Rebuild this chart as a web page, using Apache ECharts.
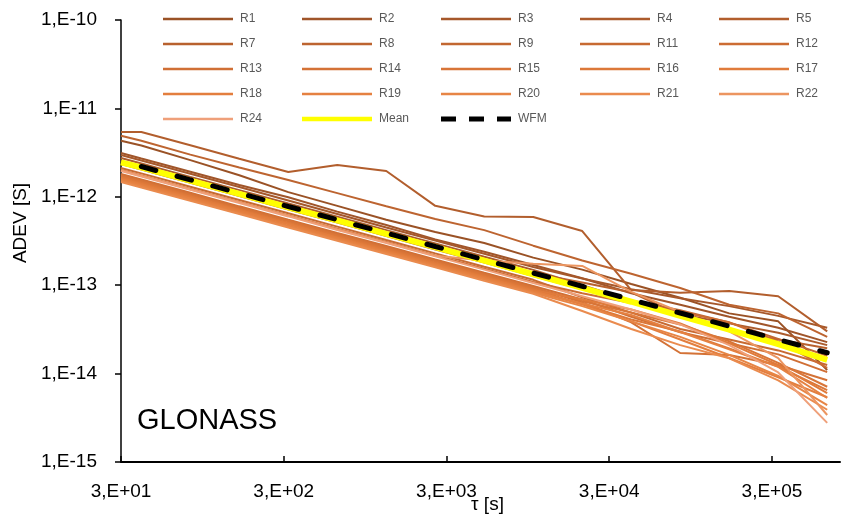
<!DOCTYPE html>
<html>
<head>
<meta charset="utf-8">
<script src="https://cdn.jsdelivr.net/npm/echarts@6/dist/echarts.min.js"></script>
<style>
html,body{margin:0;padding:0;background:#fff;}
#chart{width:847px;height:518px;}
</style>
</head>
<body>
<div id="chart"></div>
<script>
// averaging times tau [s]
const tau = [30, 40, 80, 160, 320, 640, 1280, 2560, 5120, 10240, 20480, 40960, 81920, 163840, 327680, 655360];

// ADEV values [s] per receiver
const R1  = [4.3e-12, 3.8e-12, 2.6e-12, 1.75e-12, 1.13e-12, 7.9e-13, 5.5e-13, 4.0e-13, 3.0e-13, 2.05e-13, 1.5e-13, 1.03e-13, 7.2e-14, 4.8e-14, 3.9e-14, 1.1e-14];
const R2  = [3.13e-12, 2.71e-12, 1.92e-12, 1.36e-12, 9.9e-13, 6.8e-13, 4.8e-13, 3.3e-13, 2.39e-13, 1.69e-13, 1.2e-13, 8.1e-14, 6.0e-14, 4.4e-14, 3.3e-14, 2.27e-14];
const R3  = [2.97e-12, 2.57e-12, 1.82e-12, 1.29e-12, 9.1e-13, 6.4e-13, 4.5e-13, 3.2e-13, 2.27e-13, 1.61e-13, 1.19e-13, 9.0e-14, 7.1e-14, 5.8e-14, 4.5e-14, 3.3e-14];
const R4  = [2.75e-12, 2.38e-12, 1.68e-12, 1.19e-12, 8.4e-13, 5.95e-13, 4.2e-13, 2.97e-13, 2.1e-13, 1.49e-13, 1.0e-13, 6.7e-14, 4.7e-14, 3.7e-14, 2.9e-14, 2.1e-14];
const R5  = [5.4e-12, 5.4e-12, 3.83e-12, 2.7e-12, 1.91e-12, 2.29e-12, 1.96e-12, 7.9e-13, 6.0e-13, 5.9e-13, 4.1e-13, 8.8e-14, 8.2e-14, 8.6e-14, 7.5e-14, 3.0e-14];
const R7  = [2.54e-12, 2.2e-12, 1.55e-12, 1.1e-12, 7.8e-13, 5.5e-13, 3.9e-13, 2.74e-13, 1.94e-13, 1.37e-13, 1.07e-13, 8.3e-14, 4.6e-14, 3.1e-14, 2.43e-14, 1.94e-14];
const R8  = [4.9e-12, 4.3e-12, 3.0e-12, 2.15e-12, 1.55e-12, 1.1e-12, 7.8e-13, 5.6e-13, 4.2e-13, 2.8e-13, 1.9e-13, 1.35e-13, 9.3e-14, 6.0e-14, 4.8e-14, 2.6e-14];
const R9  = [2.35e-12, 2.04e-12, 1.44e-12, 1.02e-12, 7.2e-13, 5.1e-13, 3.6e-13, 2.54e-13, 1.8e-13, 1.27e-13, 9.0e-14, 6.7e-14, 5.2e-14, 3.8e-14, 2.47e-14, 1.59e-14];
const R11 = [2.12e-12, 1.84e-12, 1.3e-12, 9.2e-13, 6.5e-13, 4.6e-13, 3.24e-13, 2.29e-13, 1.62e-13, 1.15e-13, 7.3e-14, 4.9e-14, 3.2e-14, 2.43e-14, 1.83e-14, 1.25e-14];
const R12 = [2.01e-12, 1.74e-12, 1.23e-12, 8.7e-13, 6.15e-13, 4.35e-13, 3.08e-13, 2.17e-13, 1.54e-13, 1.09e-13, 8.1e-14, 6.3e-14, 5.0e-14, 3.8e-14, 2.31e-14, 1.16e-14];
const R13 = [1.81e-12, 1.57e-12, 1.11e-12, 7.8e-13, 5.5e-13, 3.9e-13, 2.77e-13, 1.95e-13, 1.38e-13, 9.8e-14, 6.9e-14, 4.4e-14, 2.94e-14, 2.2e-14, 1.65e-14, 1.04e-14];
const R14 = [1.76e-12, 1.52e-12, 1.08e-12, 7.6e-13, 5.4e-13, 3.8e-13, 2.69e-13, 1.9e-13, 1.35e-13, 9.5e-14, 6.4e-14, 3.8e-14, 1.71e-14, 1.62e-14, 1.25e-14, 8.4e-15];
const R15 = [1.72e-12, 1.49e-12, 1.05e-12, 7.4e-13, 5.3e-13, 3.7e-13, 2.63e-13, 1.86e-13, 1.32e-13, 9.3e-14, 6.6e-14, 4.9e-14, 3.6e-14, 2.32e-14, 1.32e-14, 7.1e-15];
const R16 = [1.67e-12, 1.45e-12, 1.02e-12, 7.2e-13, 5.1e-13, 3.6e-13, 2.56e-13, 1.8e-13, 1.28e-13, 9.0e-14, 6.1e-14, 4.1e-14, 3.0e-14, 1.92e-14, 1.2e-14, 6.5e-15];
const R17 = [1.63e-12, 1.41e-12, 1.0e-12, 7.1e-13, 5.0e-13, 3.5e-13, 2.49e-13, 1.76e-13, 1.25e-13, 8.8e-14, 6.9e-14, 5.3e-14, 3.7e-14, 2.2e-14, 1.25e-14, 6.0e-15];
const R18 = [1.59e-12, 1.38e-12, 9.7e-13, 6.9e-13, 4.9e-13, 3.44e-13, 2.43e-13, 1.72e-13, 1.22e-13, 8.6e-14, 6.1e-14, 3.9e-14, 2.43e-14, 1.5e-14, 9.1e-15, 5.4e-15];
const R19 = [1.55e-12, 1.34e-12, 9.5e-13, 6.7e-13, 4.7e-13, 3.36e-13, 2.37e-13, 1.67e-13, 1.19e-13, 8.4e-14, 6.2e-14, 4.6e-14, 2.96e-14, 1.88e-14, 1.19e-14, 5.3e-15];
const R20 = [1.51e-12, 1.31e-12, 9.2e-13, 6.5e-13, 4.6e-13, 3.27e-13, 2.31e-13, 1.63e-13, 1.16e-13, 8.2e-14, 5.8e-14, 3.9e-14, 2.6e-14, 1.63e-14, 9.4e-15, 4.4e-15];
const R21 = [1.47e-12, 1.27e-12, 9.0e-13, 6.4e-13, 4.5e-13, 3.18e-13, 2.25e-13, 1.59e-13, 1.12e-13, 8.0e-14, 5.1e-14, 3.2e-14, 2.1e-14, 1.49e-14, 8.4e-15, 3.9e-15];
const R22 = [2.0e-12, 1.73e-12, 1.22e-12, 8.7e-13, 6.1e-13, 4.3e-13, 3.05e-13, 2.15e-13, 1.9e-13, 1.75e-13, 1.65e-13, 8.4e-14, 5.0e-14, 3.0e-14, 1.5e-14, 3.4e-15];
const R24 = [1.96e-12, 1.7e-12, 1.2e-12, 8.5e-13, 6.0e-13, 4.2e-13, 3.0e-13, 2.12e-13, 1.5e-13, 1.06e-13, 7.5e-14, 5.3e-14, 3.6e-14, 2.1e-14, 1.03e-14, 2.77e-15];
const Mean = [2.45e-12, 2.15e-12, 1.52e-12, 1.08e-12, 7.6e-13, 5.4e-13, 3.8e-13, 2.7e-13, 1.9e-13, 1.33e-13, 9.3e-14, 6.5e-14, 4.5e-14, 3.15e-14, 2.15e-14, 1.43e-14];
const WFM  = [null, 2.2e-12, 1.555e-12, 1.1e-12, 7.77e-13, 5.5e-13, 3.89e-13, 2.74e-13, 1.94e-13, 1.374e-13, 9.73e-14, 6.88e-14, 4.85e-14, 3.44e-14, 2.43e-14, 1.72e-14];

const receiverNames = ['R1','R2','R3','R4','R5','R7','R8','R9','R11','R12','R13','R14','R15','R16','R17','R18','R19','R20','R21','R22','R24'];
const receiverData  = [R1,R2,R3,R4,R5,R7,R8,R9,R11,R12,R13,R14,R15,R16,R17,R18,R19,R20,R21,R22,R24];
const receiverColors = ['#9A5226','#A0552A','#A6582B','#AC5B2C','#B25E2D','#B8612E','#BD6430','#C26731','#C76A32','#CC6C33','#D06F35','#D47236','#D87538','#DC7839','#E07B3B','#E37E3E','#E58141','#E78545','#EA8B4E','#EC9560','#EFA07A'];

const xTickLabels = ['3,E+01','3,E+02','3,E+03','3,E+04','3,E+05'];
const yTickLabels = ['1,E-15','1,E-14','1,E-13','1,E-12','1,E-11','1,E-10'];

const TAU0 = 30;
function pts(vals){
  return vals.map((v,i)=> [Math.log10(tau[i]/TAU0), v==null ? null : Math.log10(v)]);
}

const ICON_LINE = 'path://M0,0h70v2.6h-70z';
const ICON_MEAN = 'path://M0,0h70v4.5h-70z';
const ICON_WFM  = 'path://M0,0h15v5h-15z M28,0h15v5h-15z M56,0h14v5h-14z';

const series = receiverNames.map((n,i)=>({
  name:n, type:'line', data:pts(receiverData[i]), symbol:'none', smooth:false,
  lineStyle:{width:2, color:receiverColors[i]}, itemStyle:{color:receiverColors[i]}, z:2, silent:true
}));
series.push({name:'Mean', type:'line', data:pts(Mean), symbol:'none',
  lineStyle:{width:6, color:'#FFFF00'}, itemStyle:{color:'#FFFF00'}, z:3});
series.push({name:'WFM', type:'line', data:pts(WFM), symbol:'none', connectNulls:false,
  lineStyle:{width:5, color:'#000000', type:[15,22], cap:'round'}, itemStyle:{color:'#000'}, z:4});

const legendCols = [
  ['R1','R7','R13','R18','R24'],
  ['R2','R8','R14','R19','Mean'],
  ['R3','R9','R15','R20','WFM'],
  ['R4','R11','R16','R21'],
  ['R5','R12','R17','R22']
];
function iconFor(n){ return n==='Mean' ? ICON_MEAN : (n==='WFM' ? ICON_WFM : ICON_LINE); }
const legends = legendCols.map((col,c)=>({
  orient:'vertical', left:158 + c*139, top:8, itemWidth:70, itemHeight:14, itemGap:13,
  selectedMode:false, symbolKeepAspect:true, padding:5,
  textStyle:{fontFamily:'Liberation Sans', fontSize:12, color:'#595959', padding:[0,0,0,2]},
  data: col.map(n=>({name:n, icon:iconFor(n)}))
}));

const chart = echarts.init(document.getElementById('chart'), null, {renderer:'canvas'});
chart.setOption({
  animation:false,
  backgroundColor:'#ffffff',
  legend: legends,
  grid:{left:121, right:7, top:20, bottom:56, containLabel:false, outerBoundsMode:'none'},
  xAxis:{
    type:'value', min:0, max:4.418, interval:1,
    name:'τ [s]', nameLocation:'middle', nameGap:33, nameMoveOverlap:false,
    nameTextStyle:{fontFamily:'Liberation Sans', fontSize:19, color:'#000', padding:[0,0,0,14]},
    axisLine:{lineStyle:{color:'#000', width:2}},
    axisTick:{inside:true, length:6, lineStyle:{color:'#000', width:1.5}, customValues:[0,1,2,3,4]},
    axisLabel:{customValues:[0,1,2,3,4], margin:20, fontFamily:'Liberation Sans', fontSize:19, color:'#000',
      formatter:v=>xTickLabels[Math.round(v)] || ''},
    splitLine:{show:false}
  },
  yAxis:{
    type:'value', min:-15, max:-10, interval:1,
    axisLine:{show:true, lineStyle:{color:'#000', width:1.5}},
    axisTick:{show:true, inside:false, length:6, lineStyle:{color:'#000', width:1.5}},
    axisLabel:{margin:24, fontFamily:'Liberation Sans', fontSize:19, color:'#000',
      formatter:v=>yTickLabels[Math.round(v+15)] || ''},
    splitLine:{show:false}
  },
  graphic:[
    {type:'text', left:137, top:406, style:{text:'GLONASS', fontFamily:'Liberation Sans', fontSize:29, fill:'#000'}},
    {type:'text', x:21, y:223, rotation:Math.PI/2, style:{text:'ADEV [S]', fontFamily:'Liberation Sans', fontSize:19, fill:'#000', align:'center', verticalAlign:'middle'}}
  ],
  series: series
});
</script>
</body>
</html>
